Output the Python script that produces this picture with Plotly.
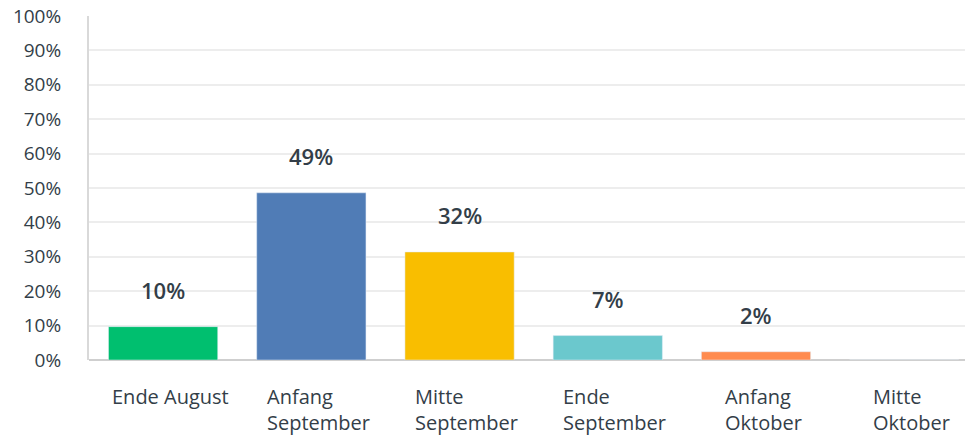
import plotly.graph_objects as go

categories = ["Ende August", "Anfang September", "Mitte September",
              "Ende September", "Anfang Oktober", "Mitte Oktober"]
label_lines = [["Ende August"], ["Anfang", "September"], ["Mitte", "September"],
               ["Ende", "September"], ["Anfang", "Oktober"], ["Mitte", "Oktober"]]
values = [9.7, 48.6, 31.4, 7.1, 2.4, 0.0]
value_labels = ["10%", "49%", "32%", "7%", "2%", ""]
colors = ["#00bf6f", "#507cb6", "#f9be00", "#6bc8cd", "#ff8b4f", "#a5a5a5"]
y_ticks = list(range(0, 101, 10))
y_tick_text = [f"{v}%" for v in y_ticks]

FONT = "Open Sans"
TXT = "#333e48"

fig = go.Figure()
fig.add_trace(go.Bar(
    x=list(range(len(categories))), y=values, marker_color=colors,
    width=0.737, hoverinfo="skip", showlegend=False,
))

annotations = []
for i, (v, lab) in enumerate(zip(values, value_labels)):
    if lab:
        annotations.append(dict(
            x=i, y=v, xref="x", yref="y", text=lab, showarrow=False,
            yanchor="middle", yshift=37,
            font=dict(family=FONT, size=22, color=TXT, weight=600),
        ))
for i, lines in enumerate(label_lines):
    annotations.append(dict(
        x=i, y=0, xref="x", yref="paper", text="<br>".join(lines),
        showarrow=False, align="left", xanchor="center", yanchor="top",
        xshift=7, yshift=-21,
        font=dict(family=FONT, size=20, color=TXT),
    ))

fig.update_layout(
    width=965, height=442,
    margin=dict(l=89, r=0, t=16, b=82),
    paper_bgcolor="white", plot_bgcolor="white",
    hovermode=False,
    xaxis=dict(range=[-0.5, 5.41], showticklabels=False, showgrid=False,
               zeroline=False, showline=False, ticks="", automargin=False),
    yaxis=dict(range=[0, 100], tickvals=y_ticks, ticktext=y_tick_text,
               showgrid=True, gridcolor="#ededed", gridwidth=2,
               zeroline=True, zerolinecolor="#cfcfcf", zerolinewidth=2,
               showline=True, linecolor="#d9d9d9", linewidth=2,
               ticklabelstandoff=22, automargin=False,
               ticklabeloverflow="allow",
               tickfont=dict(family=FONT, size=19, color=TXT)),
    annotations=annotations,
)

fig.write_html("out.html", config={"displayModeBar": False},
               post_script="document.body.style.margin='0';")
